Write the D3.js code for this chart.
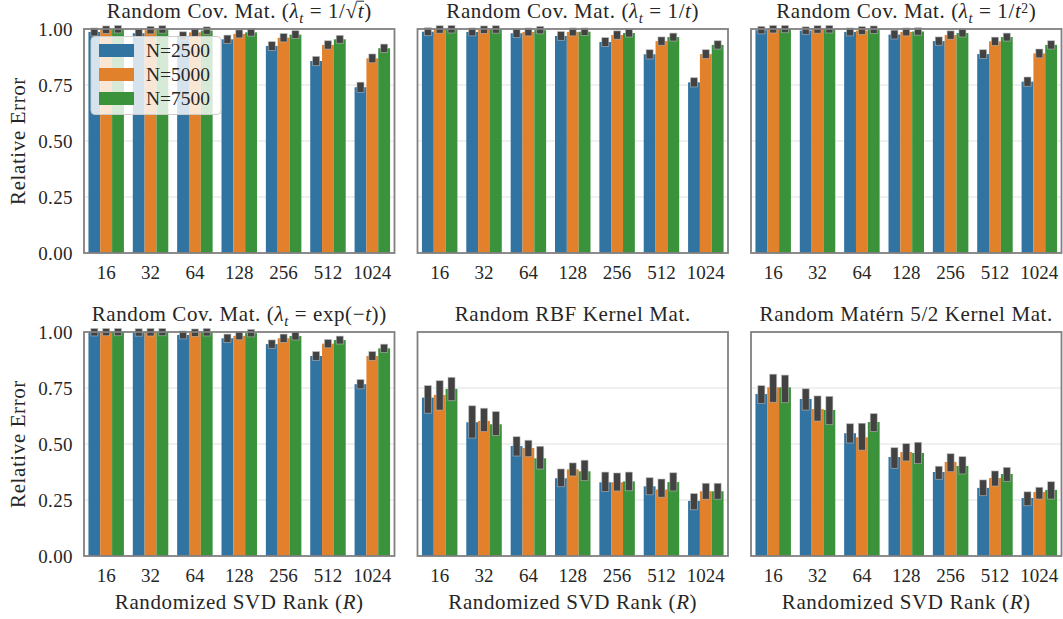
<!DOCTYPE html>
<html><head><meta charset="utf-8">
<script src="https://cdn.jsdelivr.net/npm/d3@7"></script>
<style>
body{margin:0;background:#fff}
svg{display:block}
text{font-family:"Liberation Serif","Times New Roman",serif;fill:#262626}
</style>
</head><body>
<svg id="c" width="1063" height="619"></svg>
<script>
// ---------------- DATA ----------------
const categories = ["16","32","64","128","256","512","1024"];
const seriesNames = ["N=2500","N=5000","N=7500"];
const seriesColors = ["#3274a1","#e1812c","#3a923a"];
const yTicks = [0, 0.25, 0.5, 0.75, 1.0];

// Random Cov. Mat. (lambda_t = 1/sqrt(t))
const sqrtMean = [
  [0.987,0.981,0.969,0.954,0.924,0.857,0.740],
  [0.997,0.995,0.985,0.978,0.961,0.929,0.869],
  [0.999,0.998,0.993,0.985,0.975,0.954,0.914]];
const sqrtLo = [
  [0.985,0.979,0.966,0.951,0.920,0.852,0.733],
  [0.996,0.994,0.983,0.976,0.958,0.926,0.865],
  [0.998,0.997,0.992,0.984,0.973,0.952,0.911]];
const sqrtHi = [
  [0.989,0.983,0.972,0.957,0.928,0.862,0.747],
  [0.998,0.996,0.987,0.980,0.964,0.932,0.873],
  [1.000,0.999,0.994,0.986,0.977,0.956,0.917]];

// Random Cov. Mat. (lambda_t = 1/t)
const invMean = [
  [0.988,0.987,0.981,0.969,0.942,0.887,0.762],
  [0.998,0.997,0.987,0.987,0.973,0.946,0.888],
  [0.999,0.998,0.995,0.988,0.982,0.964,0.929]];
const invLo = [
  [0.986,0.985,0.978,0.965,0.938,0.882,0.757],
  [0.997,0.996,0.985,0.985,0.970,0.943,0.884],
  [0.998,0.997,0.994,0.987,0.980,0.962,0.926]];
const invHi = [
  [0.990,0.989,0.984,0.973,0.946,0.892,0.767],
  [0.999,0.998,0.989,0.989,0.976,0.949,0.892],
  [1.000,0.999,0.996,0.989,0.984,0.966,0.932]];

// Random Cov. Mat. (lambda_t = 1/t^2)
const inv2Mean = [
  [0.995,0.993,0.987,0.975,0.946,0.888,0.765],
  [0.999,0.998,0.993,0.987,0.973,0.945,0.891],
  [1.000,0.999,0.997,0.989,0.982,0.964,0.929]];
const inv2Lo = [
  [0.994,0.992,0.985,0.971,0.943,0.884,0.760],
  [0.998,0.997,0.991,0.985,0.970,0.942,0.887],
  [0.999,0.998,0.996,0.988,0.980,0.962,0.926]];
const inv2Hi = [
  [0.996,0.994,0.989,0.979,0.949,0.892,0.770],
  [1.000,0.999,0.995,0.989,0.976,0.948,0.895],
  [1.000,1.000,0.998,0.990,0.984,0.966,0.932]];

// Random Cov. Mat. (lambda_t = exp(-t))
const expMean = [
  [0.999,0.998,0.987,0.972,0.946,0.893,0.767],
  [1.000,0.999,0.997,0.983,0.972,0.948,0.893],
  [1.000,1.000,0.999,0.995,0.982,0.964,0.927]];
const expLo = [
  [0.998,0.997,0.985,0.969,0.943,0.889,0.762],
  [0.999,0.998,0.996,0.981,0.969,0.945,0.889],
  [0.999,0.999,0.998,0.994,0.980,0.962,0.924]];
const expHi = [
  [1.000,0.999,0.989,0.975,0.949,0.897,0.772],
  [1.000,1.000,0.998,0.985,0.975,0.951,0.897],
  [1.000,1.000,1.000,0.996,0.984,0.966,0.930]];

// Random RBF Kernel Mat.
const rbfMean = [
  [0.707,0.597,0.491,0.347,0.329,0.311,0.246],
  [0.719,0.603,0.482,0.387,0.329,0.297,0.289],
  [0.746,0.588,0.436,0.378,0.333,0.330,0.289]];
const rbfLo = [
  [0.653,0.542,0.462,0.325,0.304,0.289,0.222],
  [0.667,0.571,0.459,0.373,0.306,0.278,0.269],
  [0.709,0.554,0.404,0.352,0.307,0.306,0.269]];
const rbfHi = [
  [0.745,0.655,0.517,0.373,0.359,0.334,0.263],
  [0.767,0.644,0.501,0.400,0.355,0.328,0.309],
  [0.782,0.629,0.474,0.412,0.359,0.356,0.309]];

// Random Matern 5/2 Kernel Mat.
const maternMean = [
  [0.723,0.701,0.548,0.442,0.375,0.304,0.259],
  [0.753,0.656,0.530,0.464,0.420,0.348,0.286],
  [0.753,0.652,0.598,0.460,0.402,0.366,0.295]];
const maternLo = [
  [0.697,0.667,0.520,0.407,0.358,0.285,0.240],
  [0.702,0.618,0.488,0.440,0.392,0.328,0.270],
  [0.700,0.602,0.571,0.428,0.382,0.349,0.270]];
const maternHi = [
  [0.745,0.731,0.575,0.468,0.385,0.324,0.271],
  [0.796,0.699,0.577,0.486,0.441,0.364,0.291],
  [0.792,0.697,0.620,0.492,0.428,0.380,0.316]];

// Titles (segments: [text, style])
const titles = [
  [["Random Cov. Mat. ("],["λ","i"],["t","sub"],[" = 1/"],["√","root"],["t","iover"],[")"]],
  [["Random Cov. Mat. ("],["λ","i"],["t","sub"],[" = 1/"],["t","i"],[")"]],
  [["Random Cov. Mat. ("],["λ","i"],["t","sub"],[" = 1/"],["t","i"],["2","sup"],[")"]],
  [["Random Cov. Mat. ("],["λ","i"],["t","sub"],[" = exp(−"],["t","i"],["))"]],
  [["Random RBF Kernel Mat."]],
  [["Random Matérn 5/2 Kernel Mat."]]
];
const yLabel = "Relative Error";
const xLabel = [["Randomized SVD Rank ("],["R","i"],[")"]];

const panelData = [
  {mean: sqrtMean, lo: sqrtLo, hi: sqrtHi},
  {mean: invMean, lo: invLo, hi: invHi},
  {mean: inv2Mean, lo: inv2Lo, hi: inv2Hi},
  {mean: expMean, lo: expLo, hi: expHi},
  {mean: rbfMean, lo: rbfLo, hi: rbfHi},
  {mean: maternMean, lo: maternLo, hi: maternHi}
];

// ---------------- LAYOUT ----------------
const FONT = '"Liberation Serif", "Times New Roman", serif';
const FS_TICK = 19;
const FS_LAB = 21;
const LS_LAB = 0.6;
const colLeft = [84, 417.5, 751];
const panelW = 310.5;
const rowTop = [29, 332];
const panelH = 224;
const svg = d3.select("#c");

function richText(g, x, y, segs, size, anchor) {
  const t = g.append("text").attr("x", x).attr("y", y)
    .attr("text-anchor", anchor || "middle").style("font-size", size + "px")
    .style("font-family", FONT).style("letter-spacing", LS_LAB + "px");
  let shift = 0;
  segs.forEach(s => {
    const [str, st] = s;
    let want = 0;
    const ts = t.append("tspan").text(str);
    if (st === "sub") { want = size * 0.22; ts.style("font-size", (size*0.7)+"px").style("font-style","italic"); }
    else if (st === "sup") { want = -size * 0.22; ts.style("font-size", (size*0.65)+"px"); }
    else if (st === "i" || st === "iover") ts.style("font-style", "italic");
    if (want - shift !== 0) ts.attr("dy", want - shift);
    shift = want;
  });
  let idx = 0;
  segs.forEach(s => {
    if (s[1] === "iover") {
      const node = t.node();
      const rootBox = node.getExtentOfChar(idx - 1);
      const tBox = node.getExtentOfChar(idx);
      const yy = rootBox.y + 2.2;
      g.append("line").attr("x1", rootBox.x + rootBox.width - 1.2).attr("x2", tBox.x + tBox.width)
        .attr("y1", yy).attr("y2", yy).attr("stroke", "#262626").attr("stroke-width", 1);
    }
    idx += s[0].length;
  });
  return t;
}

const y = d3.scaleLinear().domain([0, 1]);

panelData.forEach((pd, p) => {
  const row = Math.floor(p / 3), col = p % 3;
  const left = colLeft[col], top = rowTop[row];
  const g = svg.append("g");
  const x = d3.scaleBand().domain(categories).range([left, left + panelW]).paddingInner(0.2).paddingOuter(0.1);
  const xs = d3.scaleBand().domain(seriesNames).range([0, x.bandwidth()]);
  const yy = y.copy().range([top + panelH, top]);

  // grid
  g.append("g").selectAll("line").data(yTicks.filter(v => v > 0 && v < 1)).join("line")
    .attr("x1", left).attr("x2", left + panelW)
    .attr("y1", d => yy(d)).attr("y2", d => yy(d))
    .attr("stroke", "#ebebeb").attr("stroke-width", 1.4);

  // bars
  seriesNames.forEach((sn, si) => {
    g.append("g").selectAll("rect").data(categories).join("rect")
      .attr("x", c => x(c) + xs(sn))
      .attr("width", xs.bandwidth())
      .attr("y", (c, i) => yy(pd.mean[si][i]))
      .attr("height", (c, i) => yy(0) - yy(pd.mean[si][i]))
      .attr("fill", seriesColors[si]);
  });
  // error bars
  const ew = 7;
  seriesNames.forEach((sn, si) => {
    g.append("g").selectAll("rect").data(categories).join("rect")
      .attr("x", c => x(c) + xs(sn) + xs.bandwidth() / 2 - ew / 2)
      .attr("width", ew)
      .attr("y", (c, i) => yy(pd.hi[si][i]) - ew / 2)
      .attr("height", (c, i) => yy(pd.lo[si][i]) - yy(pd.hi[si][i]) + ew)
      .attr("fill", "#424242")
      .attr("stroke", "rgba(190,190,190,0.7)").attr("stroke-width", 0.8);
  });

  // x axis labels
  const xa = g.append("g").attr("transform", `translate(0,${top + panelH})`)
    .call(d3.axisBottom(x).tickSize(0).tickPadding(13));
  xa.select(".domain").remove();
  xa.attr("font-family", null).attr("font-size", null);
  xa.selectAll("text").style("font-size", FS_TICK + "px").style("font-family", FONT).attr("fill", "#262626");

  // y axis labels
  if (col === 0) {
    const ya = g.append("g").attr("transform", `translate(${left},0)`)
      .call(d3.axisLeft(yy).tickValues(yTicks).tickFormat(d3.format(".2f")).tickSize(0).tickPadding(11));
    ya.select(".domain").remove();
    ya.attr("font-family", null).attr("font-size", null);
    ya.selectAll("text").style("font-size", FS_TICK + "px").style("font-family", FONT)
      .style("letter-spacing", "0.4px").attr("fill", "#262626").attr("dy", "0.34em");
    g.append("text").attr("transform", `translate(17.5,${top + panelH / 2}) rotate(-90)`)
      .attr("text-anchor", "middle").attr("dy", "0.34em").style("font-size", FS_LAB + "px")
      .style("font-family", FONT).style("letter-spacing", LS_LAB + "px").text(yLabel);
  }

  // spines
  g.append("rect").attr("x", left).attr("y", top).attr("width", panelW).attr("height", panelH)
    .attr("fill", "none").attr("stroke", "#808080").attr("stroke-width", 1.8);

  // title
  richText(g, left + panelW / 2, top - 11, titles[p], FS_LAB);
  if (row === 1) richText(g, left + panelW / 2, 609, xLabel, FS_LAB);
});

// legend
const lg = svg.append("g");
lg.append("rect").attr("x", 91).attr("y", 36.5).attr("width", 130).attr("height", 78).attr("rx", 4)
  .attr("fill", "rgba(255,255,255,0.8)").attr("stroke", "#cccccc").attr("stroke-width", 1);
seriesNames.forEach((sn, i) => {
  lg.append("rect").attr("x", 99).attr("y", 44 + i * 24).attr("width", 35).attr("height", 13).attr("fill", seriesColors[i]);
  lg.append("text").attr("x", 146).attr("y", 50.5 + i * 24).attr("dy", "0.34em")
    .style("font-size", "19.5px").style("font-family", FONT).text(sn);
});
</script>
</body></html>
